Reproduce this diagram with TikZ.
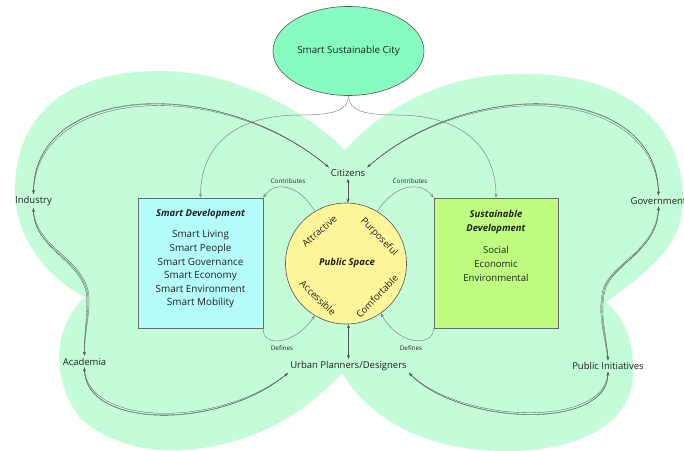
\documentclass[tikz,border=0pt]{standalone}
\usepackage{fontspec}
\setmainfont{Open Sans}
\usetikzlibrary{shapes.geometric,arrows.meta,calc}
\definecolor{blob}{HTML}{C4FCD9}
\definecolor{sscfill}{HTML}{87FCC0}
\definecolor{sdfill}{HTML}{B4FBFB}
\definecolor{susfill}{HTML}{BEFD80}
\definecolor{psfill}{HTML}{FEF59A}
\definecolor{txt}{HTML}{222222}
\definecolor{edge}{HTML}{6A6A6A}
\definecolor{ln}{HTML}{555555}
\definecolor{lnlight}{HTML}{858585}
\begin{document}
\begin{tikzpicture}[x=1pt,y=-1pt,
  lbl/.style={font=\fontsize{9.5}{11}\selectfont, text=txt, inner sep=2pt},
  rlbl/.style={font=\fontsize{9.5}{11}\selectfont, text=txt, inner sep=0pt},
  lblbi/.style={font=\fontsize{9.5}{11}\selectfont\bfseries\itshape, text=txt, inner sep=2pt},
  small/.style={font=\fontsize{6.3}{7}\selectfont, text=txt, inner sep=1pt},
  con/.style={draw=ln, line width=0.3pt},
  conl/.style={draw=lnlight, line width=0.5pt},
  arr/.style={-{Stealth[length=4pt,width=3pt]}},
  barr/.style={{Stealth[length=4pt,width=3pt]}-{Stealth[length=4pt,width=3pt]}},
  boxnode/.style={draw=edge, line width=0.6pt, minimum height=130pt, inner sep=0pt}
]
\useasboundingbox (0,0) rectangle (684,450);

% background butterfly blobs
\fill[blob] (345,150) .. controls (305,110) and (235,71) .. (160,71)
 .. controls (55,71) and (15,125) .. (15,190)
 .. controls (15,240) and (50,280) .. (85,297)
 .. controls (55,325) and (48,375) .. (80,418)
 .. controls (110,445) and (150,452) .. (180,450)
 .. controls (240,448) and (300,420) .. (342,373)
 .. controls (375,428) and (440,452) .. (510,451)
 .. controls (575,451) and (632,425) .. (633,375)
 .. controls (634,340) and (625,320) .. (606,302)
 .. controls (650,270) and (683,245) .. (683,200)
 .. controls (683,120) and (620,72) .. (520,74)
 .. controls (450,73) and (385,105) .. (345,150) -- cycle;

% main shapes
\node[ellipse, draw=ln, line width=0.6pt, fill=sscfill, minimum width=151pt, minimum height=89pt, lbl, font=\fontsize{9.8}{11}\selectfont] (ssc) at (348.5,51) {Smart Sustainable City};
\node[boxnode, fill=sdfill, minimum width=125pt] (sd) at (200.5,263) {};
\node[boxnode, fill=susfill, minimum width=124pt] (sus) at (496,263) {};
\node[circle, draw=ln, line width=0.6pt, fill=psfill, minimum size=121pt, inner sep=0pt] (ps) at (346,263.5) {};

% texts in boxes
\node[lblbi] (sdt) at (200.5,214) {Smart Development};
\node[lbl, align=center, font=\fontsize{9.9}{13.6}\selectfont] (sdl) at (200.5,269.5) {Smart Living\\Smart People\\Smart Governance\\Smart Economy\\Smart Environment\\Smart Mobility};
\node[lblbi, align=center, font=\fontsize{9.5}{14.3}\selectfont\bfseries\itshape] (sust) at (496,222) {Sustainable\\Development};
\node[lbl, align=center, font=\fontsize{9.6}{13.8}\selectfont] (susl) at (496,264) {Social\\Economic\\Environmental};

% circle texts
\node[lblbi, inner sep=0pt] (pst) at (347,263) {Public Space};
\node[rlbl, rotate=40] (att) at (319.5,231) {Attractive};
\node[rlbl, rotate=-46] (pur) at (379,237) {Purposeful};
\node[rlbl, rotate=-44] (acc) at (318,298) {Accessible};
\node[rlbl, rotate=46] (com) at (377,296) {Comfortable};

% actors
\node[lbl] (cit) at (348,173) {Citizens};
\node[lbl] (ind) at (33.5,201) {Industry};
\node[lbl] (gov) at (658.5,201) {Government};
\node[lbl] (aca) at (84.5,361.5) {Academia};
\node[lbl] (urb) at (348.5,366) {Urban Planners/Designers};
\node[lbl] (pub) at (608,366) {Public Initiatives};

% small labels
\node[small] (c1) at (288,181) {Contributes};
\node[small] (c2) at (410,181) {Contributes};
\node[small] (d1) at (282,348) {Defines};
\node[small] (d2) at (411,348) {Defines};

% ellipse to the two boxes
\draw[conl,arr] (ssc.south) .. controls (348,110) and (335,115) .. (300,115)
  .. controls (230,115) and (200.5,150) .. (sd.north);
\draw[conl,arr] (ssc.south) .. controls (349,110) and (362,115) .. (397,115)
  .. controls (465,115) and (496,150) .. (sus.north);

% contributes / defines
\draw[conl,arr] (ps.121) .. controls (300,185) and (275,180) .. (sd.north east);
\draw[conl,arr] (ps.59) .. controls (394,185) and (420,180) .. (sus.north west);
\draw[conl,arr] (sd.south east) .. controls (262,348) and (295,345) .. (ps.239);
\draw[conl,arr] (sus.south west) .. controls (433,348) and (398,345) .. (ps.305);

% vertical links
\draw[con,line width=0.45pt,barr] (cit.south) -- (cit.south |- ps.north);
\draw[con,line width=0.45pt,barr] (ps.south -| urb.north) -- (urb.north);

% Industry <-> Citizens
\draw[con,barr] (ind.north) .. controls (33,85) and (220,75) .. (cit.north west);
\draw[con] (ind.north) .. controls (31.6,83.6) and (218.6,73.6) .. (cit.north west);
\draw[con] (ind.north) .. controls (34.4,86.4) and (221.4,76.4) .. (cit.north west);
% Government <-> Citizens
\draw[con,barr] (gov.north) .. controls (658,85) and (472,75) .. (cit.north east);
\draw[con] (gov.north) .. controls (659.4,83.6) and (473.4,73.6) .. (cit.north east);
\draw[con] (gov.north) .. controls (656.6,86.4) and (470.6,76.4) .. (cit.north east);
% Industry <-> Academia
\draw[con,barr] (ind.south) .. controls (33,250) and (88,260) .. (88,300) .. controls (88,320) and (84,335) .. (aca.north);
\draw[con] (ind.south) .. controls (32.3,251) and (86.8,261) .. (86.9,300) .. controls (86.9,320) and (84,335) .. (aca.north);
\draw[con] (ind.south) .. controls (33.7,249) and (89.2,259) .. (89.1,300) .. controls (89.1,320) and (84,335) .. (aca.north);
% Academia <-> Urban planners
\draw[con,barr] (aca.south) .. controls (84,428) and (220,430) .. (urb.south west);
\draw[con] (aca.south) .. controls (82.6,429.4) and (220,431.4) .. (urb.south west);
\draw[con] (aca.south) .. controls (85.4,426.6) and (220,428.6) .. (urb.south west);
% Urban planners <-> Public initiatives
\draw[con,barr] (urb.south east) .. controls (460,425) and (608,430) .. (pub.south);
\draw[con] (urb.south east) .. controls (460,426.4) and (609.4,431.4) .. (pub.south);
\draw[con] (urb.south east) .. controls (460,423.6) and (606.6,428.6) .. (pub.south);
% Public initiatives <-> Government
\draw[con,barr] (pub.north) .. controls (606,335) and (598,315) .. (604,290) .. controls (610,265) and (658.5,250) .. (gov.south);
\draw[con] (pub.north) .. controls (605,335) and (597,315) .. (602.9,290) .. controls (609,264.5) and (657.4,250) .. (gov.south);
\draw[con] (pub.north) .. controls (607,335) and (599,315) .. (605.1,290) .. controls (611,265.5) and (659.6,250) .. (gov.south);
\end{tikzpicture}
\end{document}
